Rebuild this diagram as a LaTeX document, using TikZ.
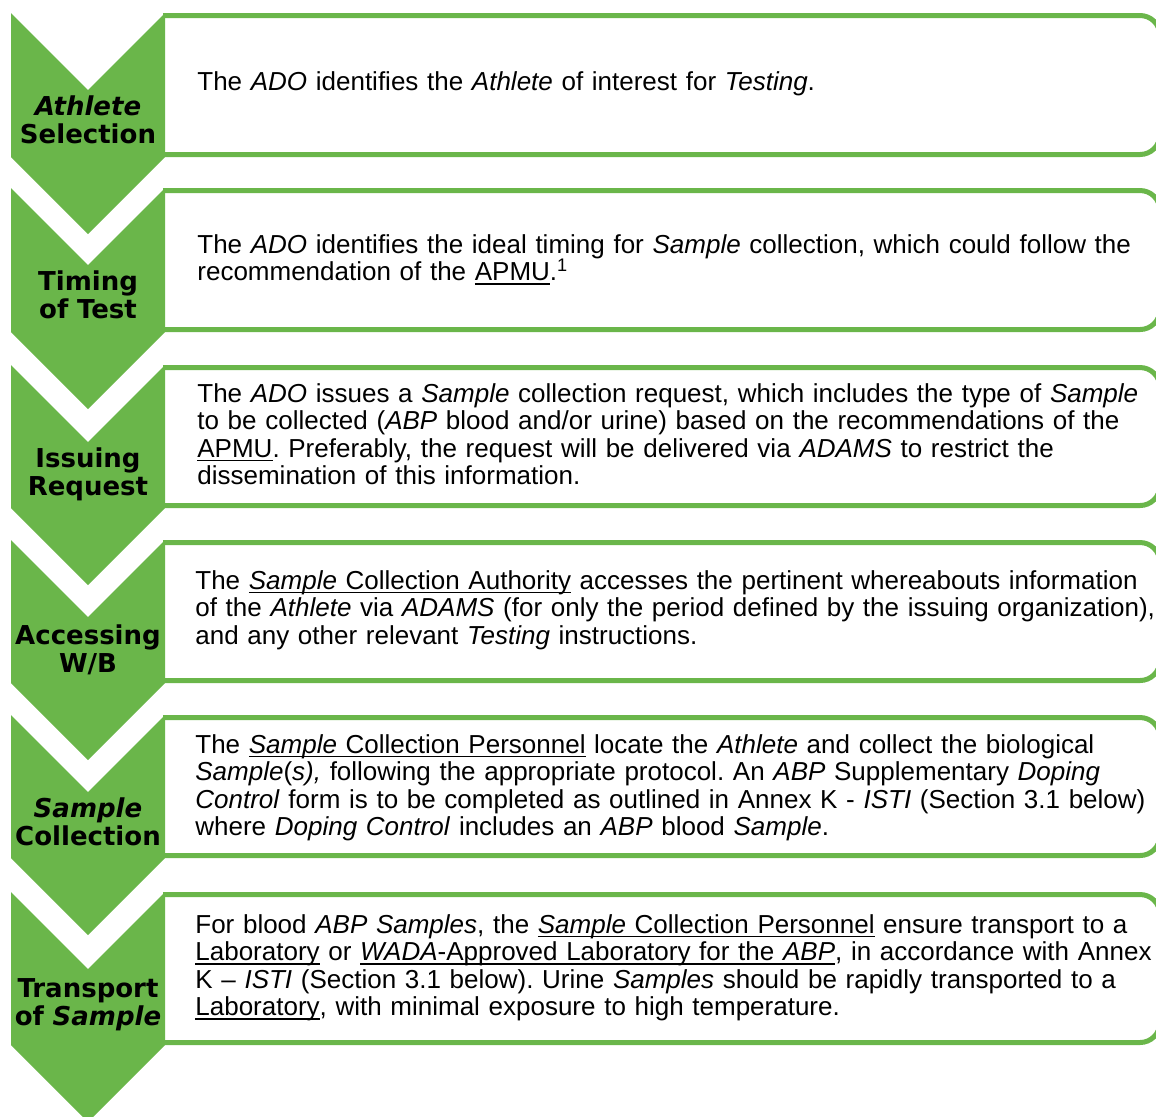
\documentclass[tikz,border=0pt]{standalone}
\usepackage{fontspec}
\setmainfont{Liberation Sans}
\newfontfamily\labelfont{DejaVu Sans}
\usetikzlibrary{positioning}
\definecolor{stagegreen}{RGB}{106,182,74}
\newcommand\undl[1]{\leavevmode\setbox0\hbox{#1}\rlap{\rule[-2.2pt]{\wd0}{0.8pt}}\box0\relax}

\begin{document}
\begin{tikzpicture}[
		x=0.5pt, y=-0.5pt,
		stagebox/.style={draw=stagegreen, line width=2.5pt, rounded corners=10pt},
		stagelabel/.style={anchor=base, inner sep=0pt, text width=84pt, align=center, font=\labelfont\bfseries\fontsize{13}{14}\selectfont},
		stagetext/.style={anchor=base west, inner sep=0pt, text width=540pt, align=left, font=\fontsize{13}{13.75}\selectfont\frenchspacing},
	]
		\useasboundingbox (0,0) rectangle (1156,1116);
		% chevrons and boxes
		\foreach \ya/\yb in {13/157, 188/332, 365/508, 540/683, 715/858, 892/1045} {
			\fill[stagegreen] (11,\ya) -- (88,\ya+77) -- (165,\ya) -- (165,\yb) -- (88,\yb+77) -- (11,\yb) -- cycle;
			\draw[stagebox] (163,\ya+2.5) -- (1160,\ya+2.5) -- (1160,\yb-2.5) -- (163,\yb-2.5);
		}
		
		\node[stagelabel] (sel) at (88,115) {\textit{Athlete}\\Selection};
		\node[stagelabel] (tim) at (88,290) {Timing\\of Test};
		\node[stagelabel] (req) at (88,467) {Issuing\\Request};
		\node[stagelabel] (wb) at (88,644) {Accessing\\W/B};
		\node[stagelabel] (col) at (88,817) {\textit{Sample}\\Collection};
		\node[stagelabel] (tra) at (88,997) {Transport\\of \textit{Sample}};
		
		\node[stagetext] (seltext) at (197,90) {The \textit{ADO} identifies the \textit{Athlete} of interest for \textit{Testing}.};
		\node[stagetext] (timtext) at (197,253) {The \textit{ADO} identifies the ideal timing for \textit{Sample} collection, which could follow the\\recommendation of the \undl{APMU}.\textsuperscript{1}};
		\node[stagetext] (reqtext) at (197,402) {The \textit{ADO} issues a \textit{Sample} collection request, which includes the type of \textit{Sample}\\to be collected (\textit{ABP} blood and/or urine) based on the recommendations of the\\\undl{APMU}. Preferably, the request will be delivered via \textit{ADAMS} to restrict the\\dissemination of this information.};
		\node[stagetext] (wbtext) at (195,589) {The \undl{\textit{Sample} Collection Authority} accesses the pertinent whereabouts information\\of the \textit{Athlete} via \textit{ADAMS} (for only the period defined by the issuing organization),\\and any other relevant \textit{Testing} instructions.};
		\node[stagetext] (coltext) at (195,753) {The \undl{\textit{Sample} Collection Personnel} locate the \textit{Athlete} and collect the biological\\\textit{Sample}(\textit{s),} following the appropriate protocol. An \textit{ABP} Supplementary \textit{Doping}\\\textit{Control} form is to be completed as outlined in Annex K - \textit{ISTI} (Section 3.1 below)\\where \textit{Doping Control} includes an \textit{ABP} blood \textit{Sample}.};
		\node[stagetext] (tratext) at (195,933) {For blood \textit{ABP Samples}, the \undl{\textit{Sample} Collection Personnel} ensure transport to a\\\undl{Laboratory} or \undl{\textit{WADA}-Approved Laboratory for the \textit{ABP}}, in accordance with Annex\\K -- \textit{ISTI} (Section 3.1 below). Urine \textit{Samples} should be rapidly transported to a\\\undl{Laboratory}, with minimal exposure to high temperature.};
	\end{tikzpicture}
\end{document}
